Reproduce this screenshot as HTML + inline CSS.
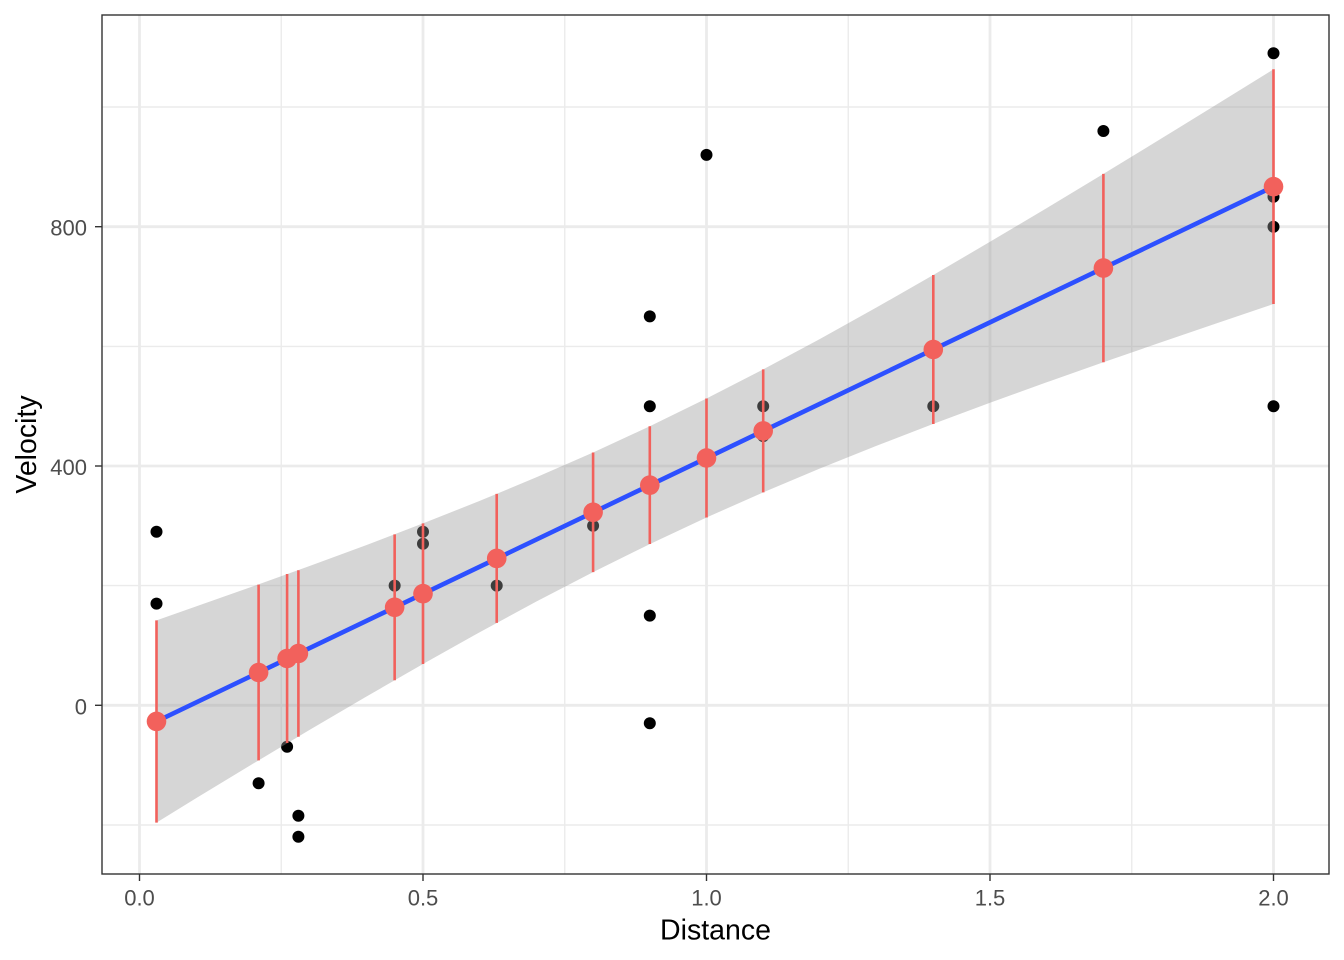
<!DOCTYPE html>
<html><head><meta charset="utf-8"><style>
html,body{margin:0;padding:0;background:#fff;}
svg{display:block;}
text{font-family:"Liberation Sans",Arial,sans-serif;}
</style></head><body>
<svg width="1344" height="960" viewBox="0 0 1344 960" xmlns="http://www.w3.org/2000/svg">
<rect x="0" y="0" width="1344" height="960" fill="#fff"/>
<defs><clipPath id="p"><rect x="102" y="15" width="1227" height="859"/></clipPath></defs>
<g clip-path="url(#p)">
<g stroke="#EBEBEB" stroke-width="1.4">
<line x1="281.25" y1="15" x2="281.25" y2="874"/>
<line x1="564.75" y1="15" x2="564.75" y2="874"/>
<line x1="848.25" y1="15" x2="848.25" y2="874"/>
<line x1="1131.75" y1="15" x2="1131.75" y2="874"/>
<line x1="102" y1="825" x2="1329" y2="825"/>
<line x1="102" y1="585.6" x2="1329" y2="585.6"/>
<line x1="102" y1="346.4" x2="1329" y2="346.4"/>
<line x1="102" y1="107" x2="1329" y2="107"/>
</g>
<g stroke="#EBEBEB" stroke-width="2.8">
<line x1="139.5" y1="15" x2="139.5" y2="874"/>
<line x1="423" y1="15" x2="423" y2="874"/>
<line x1="706.5" y1="15" x2="706.5" y2="874"/>
<line x1="990" y1="15" x2="990" y2="874"/>
<line x1="1273.5" y1="15" x2="1273.5" y2="874"/>
<line x1="102" y1="705.3" x2="1329" y2="705.3"/>
<line x1="102" y1="466" x2="1329" y2="466"/>
<line x1="102" y1="226.7" x2="1329" y2="226.7"/>
</g>
<g fill="#000">
<circle cx="156.5" cy="603.6" r="6"/>
<circle cx="156.5" cy="531.8" r="6"/>
<circle cx="258.6" cy="783.2" r="6"/>
<circle cx="287.1" cy="746.8" r="6"/>
<circle cx="298.4" cy="815.8" r="6"/>
<circle cx="298.4" cy="836.8" r="6"/>
<circle cx="394.65" cy="585.6" r="6"/>
<circle cx="423" cy="531.8" r="6"/>
<circle cx="423" cy="543.8" r="6"/>
<circle cx="496.71" cy="585.6" r="6"/>
<circle cx="593.1" cy="525.8" r="6"/>
<circle cx="649.8" cy="723.2" r="6"/>
<circle cx="649.8" cy="316.4" r="6"/>
<circle cx="649.8" cy="615.6" r="6"/>
<circle cx="649.8" cy="406.2" r="6"/>
<circle cx="706.5" cy="154.9" r="6"/>
<circle cx="763.2" cy="436.1" r="6"/>
<circle cx="763.2" cy="406.2" r="6"/>
<circle cx="933.3" cy="406.2" r="6"/>
<circle cx="1103.4" cy="131.0" r="6"/>
<circle cx="1273.5" cy="406.2" r="6"/>
<circle cx="1273.5" cy="196.8" r="6"/>
<circle cx="1273.5" cy="226.7" r="6"/>
<circle cx="1273.5" cy="53.2" r="6"/>
</g>
<polygon fill="#999999" fill-opacity="0.4" points="156.5,620.4 196.2,606.4 252.9,586.4 309.6,566.0 366.3,545.1 423.0,523.4 479.7,500.9 536.4,477.3 593.1,452.5 649.8,426.2 706.5,398.5 763.2,369.4 819.9,339.0 876.6,307.4 933.3,275.0 990.0,241.8 1046.7,208.1 1103.4,173.9 1160.1,139.3 1216.8,104.4 1273.5,69.3 1273.5,304.0 1216.8,323.2 1160.1,342.6 1103.4,362.3 1046.7,382.3 990.0,402.8 933.3,423.9 876.6,445.8 819.9,468.5 763.2,492.4 706.5,517.5 649.8,544.1 593.1,572.1 536.4,601.5 479.7,632.2 423.0,664.0 366.3,696.6 309.6,729.9 252.9,763.8 196.2,798.1 156.5,822.6"/>
<line x1="156.5" y1="721.4" x2="1273.5" y2="186.65" stroke="#2D50FF" stroke-width="4.6"/>
<g stroke="#F2615C" stroke-width="2.6">
<line x1="156.5" y1="620.4" x2="156.5" y2="822.6"/>
<line x1="258.6" y1="584.6" x2="258.6" y2="760.4"/>
<line x1="287.1" y1="574.0" x2="287.1" y2="743.0"/>
<line x1="298.4" y1="570.3" x2="298.4" y2="736.7"/>
<line x1="394.65" y1="534.4" x2="394.65" y2="680.2"/>
<line x1="423" y1="523.4" x2="423" y2="664.0"/>
<line x1="496.71" y1="493.9" x2="496.71" y2="622.9"/>
<line x1="593.1" y1="452.5" x2="593.1" y2="572.1"/>
<line x1="649.8" y1="426.25" x2="649.8" y2="544.05"/>
<line x1="706.5" y1="398.5" x2="706.5" y2="517.5"/>
<line x1="763.2" y1="369.4" x2="763.2" y2="492.4"/>
<line x1="933.3" y1="275.0" x2="933.3" y2="424.0"/>
<line x1="1103.4" y1="173.9" x2="1103.4" y2="362.3"/>
<line x1="1273.5" y1="69.3" x2="1273.5" y2="304.0"/>
</g>
<g fill="#F2615C">
<circle cx="156.5" cy="721.4" r="9.8"/>
<circle cx="258.6" cy="672.5" r="9.8"/>
<circle cx="287.1" cy="658.5" r="9.8"/>
<circle cx="298.4" cy="653.5" r="9.8"/>
<circle cx="394.65" cy="607.3" r="9.8"/>
<circle cx="423" cy="593.7" r="9.8"/>
<circle cx="496.71" cy="558.4" r="9.8"/>
<circle cx="593.1" cy="512.3" r="9.8"/>
<circle cx="649.8" cy="485.15" r="9.8"/>
<circle cx="706.5" cy="458.0" r="9.8"/>
<circle cx="763.2" cy="430.9" r="9.8"/>
<circle cx="933.3" cy="349.5" r="9.8"/>
<circle cx="1103.4" cy="268.1" r="9.8"/>
<circle cx="1273.5" cy="186.65" r="9.8"/>
</g>
</g>
<rect x="102" y="15" width="1227" height="859" fill="none" stroke="#333333" stroke-width="1.4"/>
<g stroke="#333333" stroke-width="1.4">
<line x1="139.5" y1="874" x2="139.5" y2="881"/>
<line x1="423" y1="874" x2="423" y2="881"/>
<line x1="706.5" y1="874" x2="706.5" y2="881"/>
<line x1="990" y1="874" x2="990" y2="881"/>
<line x1="1273.5" y1="874" x2="1273.5" y2="881"/>
<line x1="95" y1="705.3" x2="102" y2="705.3"/>
<line x1="95" y1="466" x2="102" y2="466"/>
<line x1="95" y1="226.7" x2="102" y2="226.7"/>
</g>
<g fill="#4D4D4D" font-size="22" text-anchor="middle">
<text x="139.5" y="905.5">0.0</text>
<text x="423" y="905.5">0.5</text>
<text x="706.5" y="905.5">1.0</text>
<text x="990" y="905.5">1.5</text>
<text x="1273.5" y="905.5">2.0</text>
</g>
<g fill="#4D4D4D" font-size="22" text-anchor="end">
<text x="87" y="714.3">0</text>
<text x="87" y="475">400</text>
<text x="87" y="235.7">800</text>
</g>
<text x="715.5" y="939.3" font-size="28.5" text-anchor="middle" fill="#000">Distance</text>
<text transform="translate(36,444.5) rotate(-90)" font-size="28.5" text-anchor="middle" fill="#000">Velocity</text>
</svg>
</body></html>
